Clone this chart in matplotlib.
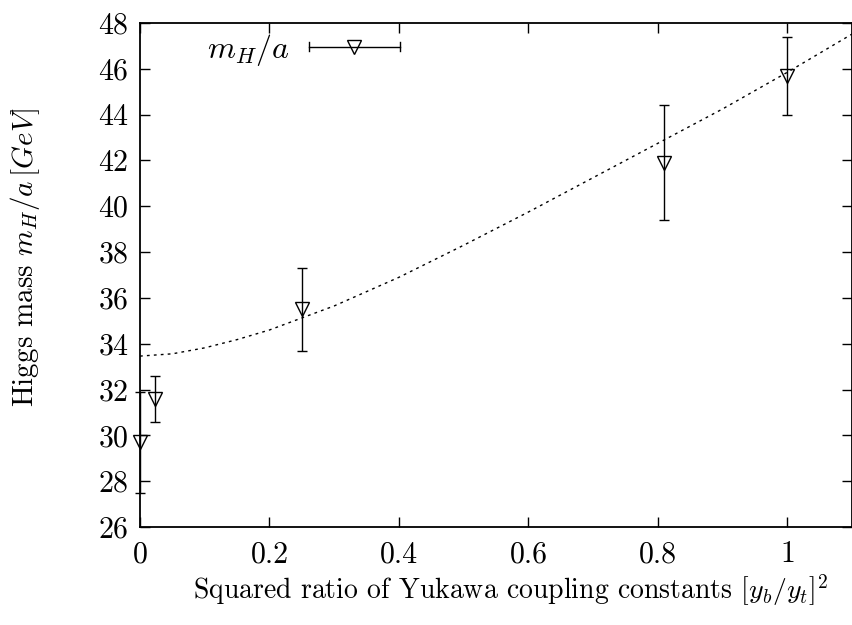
import matplotlib
matplotlib.use("Agg")
import matplotlib.pyplot as plt
from matplotlib.legend_handler import HandlerBase
from matplotlib.lines import Line2D
from matplotlib.ticker import FuncFormatter, MultipleLocator

#region data

# squared ratio (y_b/y_t)^2 and measured Higgs mass m_H/a
ratio = [0.0, 0.023, 0.25, 0.81, 1.0]
mass = [29.7, 31.6, 35.5, 41.9, 45.7]
mass_err = [2.2, 1.0, 1.8, 2.5, 1.7]

# fit curve
fit_x = [0.0, 0.05, 0.1, 0.15, 0.2, 0.3, 0.4, 0.5, 0.6, 0.7, 0.8, 0.9, 1.0, 1.1]
fit_y = [33.46, 33.56, 33.82, 34.18, 34.6, 35.65, 36.9, 38.3, 39.75, 41.25, 42.75, 44.25, 45.85, 47.52]

legend_label = r"$m_H/a$"
xlabel = r"Squared ratio of Yukawa coupling constants $[y_b/y_t]^2$"
ylabel = r"Higgs mass $m_H/a\,[GeV]$"

#endregion

plt.rcParams["font.family"] = "serif"
plt.rcParams["font.serif"] = ["cmr10", "DejaVu Serif"]
plt.rcParams["mathtext.fontset"] = "cm"
plt.rcParams["axes.formatter.use_mathtext"] = True
plt.rcParams["font.size"] = 21


class HandlerHorizErr(HandlerBase):
  # gnuplot style key sample: horizontal bar with caps and the marker in the middle
  def create_artists(self, legend, orig_handle, xdescent, ydescent, width, height, fontsize, trans):
    y = height / 2 - ydescent
    x0, x1 = -xdescent, -xdescent + width
    cap = 3.5
    line = Line2D([x0, x1], [y, y], color="k", lw=1)
    c0 = Line2D([x0, x0], [y - cap, y + cap], color="k", lw=1)
    c1 = Line2D([x1, x1], [y - cap, y + cap], color="k", lw=1)
    mk = Line2D([(x0 + x1) / 2], [y], marker="v", markersize=9.5,
                markerfacecolor="none", markeredgecolor="k", markeredgewidth=1, ls="none")
    arts = [line, c0, c1, mk]
    for a in arts:
      a.set_transform(trans)
    return arts


fig = plt.figure(figsize=(8.53, 6.25), dpi=100)
ax = fig.add_axes([0.1641, 0.1568, 0.8349, 0.8064])

ax.plot(fit_x, fit_y, color="k", lw=1, ls=(0, (2, 3)))

eb = ax.errorbar(ratio, mass, yerr=mass_err, fmt="v", color="k", markersize=9.5,
                 markerfacecolor="none", markeredgewidth=1, elinewidth=1,
                 capsize=3.6, capthick=1, clip_on=False, zorder=3)
for art in eb.lines[0:1] + tuple(eb.lines[1]) + tuple(eb.lines[2]):
  art.set_clip_on(False)

ax.set_xlim(0, 1.1)
ax.set_ylim(26, 48)
ax.xaxis.set_major_locator(MultipleLocator(0.2))
ax.yaxis.set_major_locator(MultipleLocator(2))
ax.xaxis.set_major_formatter(FuncFormatter(lambda v, p: "%g" % round(v, 6)))
ax.tick_params(direction="in", length=7, width=1, top=True, right=True, labelsize=21.5)
ax.tick_params(axis="x", pad=10)
ax.tick_params(axis="y", pad=8)
for s in ax.spines.values():
  s.set_linewidth(1.3)

ax.set_xlabel(xlabel, fontsize=20)
ax.set_ylabel(ylabel, fontsize=21)
ax.xaxis.set_label_coords(0.52, -0.09)
ax.yaxis.set_label_coords(-0.138, 0.535)

ax.legend([eb], [legend_label], handler_map={type(eb): HandlerHorizErr()},
          loc="upper left", bbox_to_anchor=(0.076, 1.008), frameon=False, fontsize=23,
          markerfirst=False, handlelength=2.85, handletextpad=0.6, borderaxespad=0.0)

fig.savefig("out.png", dpi=100)
